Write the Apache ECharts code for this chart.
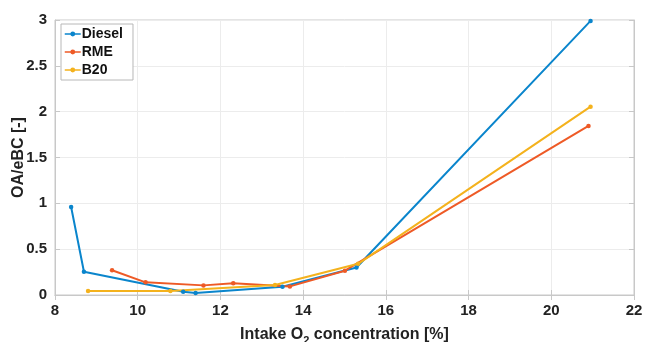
<!DOCTYPE html>
<html><head><meta charset="utf-8">
<script src="https://cdn.jsdelivr.net/npm/echarts@6/dist/echarts.min.js"></script>
<style>html,body{margin:0;padding:0;background:#fff}#c{width:646px;height:342px}</style>
</head><body><div id="c"></div>
<script>
const dieselX = [8.39, 8.70, 11.10, 11.40, 13.50, 15.29, 20.95];
const dieselY = [0.96, 0.254, 0.036, 0.022, 0.09, 0.30, 2.99];
const rmeX = [9.38, 10.19, 11.59, 12.31, 13.68, 15.01, 20.90];
const rmeY = [0.27, 0.138, 0.105, 0.127, 0.094, 0.265, 1.845];
const b20X = [8.80, 10.79, 13.32, 15.33, 20.95];
const b20Y = [0.044, 0.044, 0.109, 0.34, 2.055];
const xTicks = [8, 10, 12, 14, 16, 18, 20, 22];
const yTicks = [0, 0.5, 1, 1.5, 2, 2.5, 3];

const zip = (a, b) => a.map((v, i) => [v, b[i]]);
const font = '"Liberation Sans", Arial, sans-serif';
const colors = ['#0a85cc', '#ee5a26', '#f4b21d'];
const chart = echarts.init(document.getElementById('c'));
const mkSeries = (name, x, y, c) => ({
  name, type: 'line', data: zip(x, y), symbol: 'circle', symbolSize: 4.5,
  itemStyle: {color: c}, lineStyle: {color: c, width: 2}, z: 3
});
const axisCommon = {
  type: 'value', min: 0, max: 3, interval: 0.5
};
chart.setOption({
  animation: false,
  grid: {left: 55, right: 12, top: 20, bottom: 47, show: true, borderColor: '#c8c8c8', borderWidth: 1,
    outerBoundsMode: 'none', containLabel: false},
  legend: {
    left: 61, top: 24, orient: 'vertical', itemGap: 4, itemWidth: 16, itemHeight: 6,
    backgroundColor: '#fff', borderColor: '#b8b8b8', borderWidth: 1, padding: [3, 10, 3, 3],
    lineStyle: {width: 1.5},
    textStyle: {fontFamily: font, fontWeight: 'bold', fontSize: 14, color: '#111', padding: [0, 0, 0, -4]},
    data: ['Diesel', 'RME', 'B20']
  },
  xAxis: [{
    type: 'value', min: 8, max: 22, interval: 2,
    name: '{a|Intake O}{s|2}{a| concentration [%]}', nameLocation: 'middle', nameGap: 28,
    nameMoveOverlap: false,
    nameTextStyle: {rich: {
      a: {fontFamily: font, fontWeight: 'bold', fontSize: 16, color: '#222'},
      s: {fontFamily: font, fontWeight: 'bold', fontSize: 11, color: '#222', verticalAlign: 'bottom', padding: [12, 0, 0, 0]}
    }},
    axisLine: {show: true, lineStyle: {color: '#c8c8c8'}},
    axisTick: {show: true, inside: true, length: 5, lineStyle: {color: '#c8c8c8'}},
    axisLabel: {fontFamily: font, fontWeight: 'bold', fontSize: 15, color: '#222', margin: 8,
      formatter: v => xTicks.includes(v) ? String(v) : ''},
    splitLine: {show: true, lineStyle: {color: '#ececec'}}
  }, {
    type: 'value', min: 8, max: 22, interval: 2, position: 'top',
    axisLine: {show: true, lineStyle: {color: '#c8c8c8'}},
    axisTick: {show: true, inside: true, length: 5, lineStyle: {color: '#c8c8c8'}},
    axisLabel: {show: false}, splitLine: {show: false}
  }],
  yAxis: [Object.assign({}, axisCommon, {
    name: 'OA/eBC [-]', nameLocation: 'middle', nameGap: 28, nameMoveOverlap: false,
    nameTextStyle: {fontFamily: font, fontWeight: 'bold', fontSize: 16, color: '#222'},
    axisLine: {show: true, lineStyle: {color: '#c8c8c8'}},
    axisTick: {show: true, inside: true, length: 5, lineStyle: {color: '#c8c8c8'}},
    axisLabel: {fontFamily: font, fontWeight: 'bold', fontSize: 15, color: '#222', margin: 8,
      formatter: v => yTicks.includes(v) ? String(v) : ''},
    splitLine: {show: true, lineStyle: {color: '#ececec'}}
  }), Object.assign({}, axisCommon, {
    position: 'right',
    axisLine: {show: true, lineStyle: {color: '#c8c8c8'}},
    axisTick: {show: true, inside: true, length: 5, lineStyle: {color: '#c8c8c8'}},
    axisLabel: {show: false}, splitLine: {show: false}
  })],
  series: [
    mkSeries('Diesel', dieselX, dieselY, colors[0]),
    mkSeries('RME', rmeX, rmeY, colors[1]),
    mkSeries('B20', b20X, b20Y, colors[2])
  ]
});
</script></body></html>
